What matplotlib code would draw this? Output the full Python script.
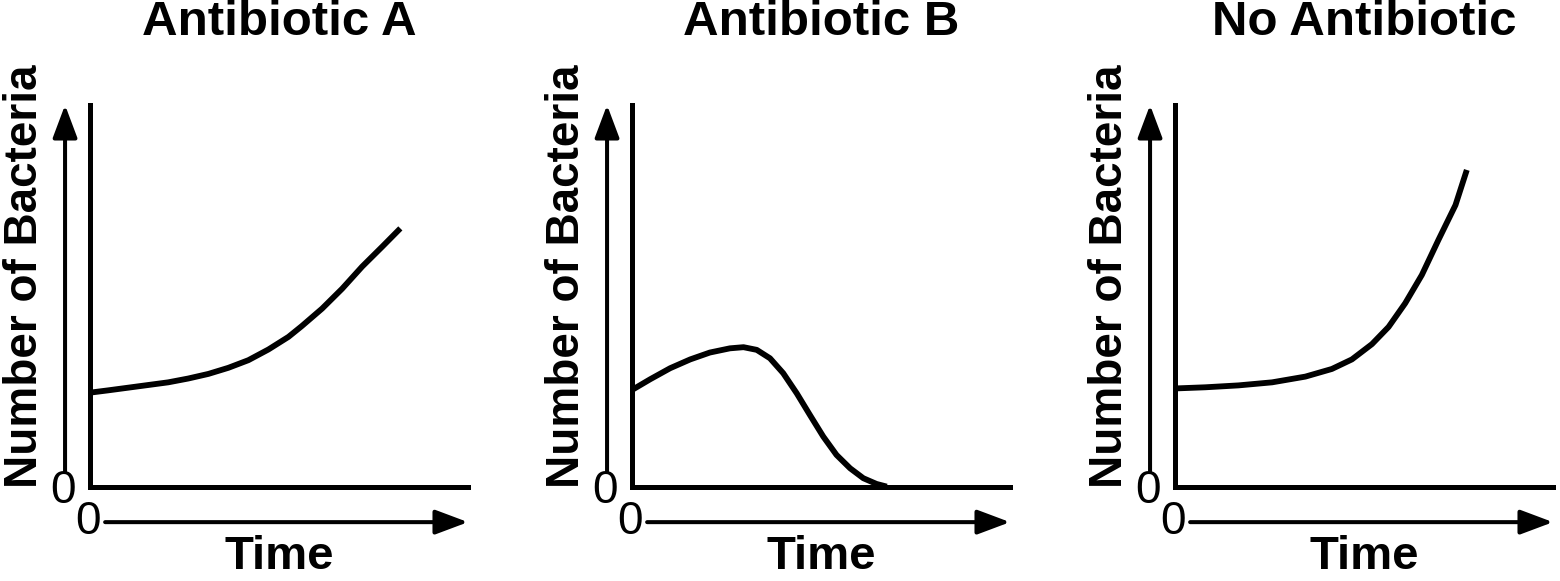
import matplotlib
matplotlib.use("Agg")
from matplotlib import pyplot as plt

plt.rcParams['font.family'] = ['Liberation Sans', 'DejaVu Sans']

titles = ["Antibiotic A", "Antibiotic B", "No Antibiotic"]

# curves, time and bacteria on a 0-100 scale
time_a = [0, 4.8, 10.1, 15.4, 20.7, 26.0, 31.3, 36.6, 41.9, 47.2, 52.5, 56.0, 61.4,
          66.7, 72.0, 77.3, 82.1]
bact_a = [24.7, 25.3, 26.0, 26.7, 27.4, 28.4, 29.6, 31.2, 33.2, 36.0, 39.3, 42.1, 46.7,
          51.9, 57.7, 62.9, 67.7]

time_b = [0, 4.8, 10.1, 15.4, 20.6, 25.9, 29.5, 33.0, 36.5, 40.0, 43.6, 47.1, 50.6,
          54.1, 57.7, 61.2, 64.7, 67.4]
bact_b = [25.4, 28.2, 31.1, 33.4, 35.2, 36.3, 36.6, 35.9, 33.7, 29.8, 24.5, 18.8, 13.2,
          8.4, 4.9, 2.3, 0.8, 0.1]

time_c = [0, 8.0, 16.8, 25.7, 34.5, 41.5, 46.8, 52.1, 56.5, 60.9, 65.3, 69.7, 74.2, 77.2]
bact_c = [25.8, 26.1, 26.6, 27.4, 28.9, 30.9, 33.4, 37.4, 41.9, 48.1, 55.5, 64.7, 73.8, 83.0]

curves = [(time_a, bact_a), (time_b, bact_b), (time_c, bact_c)]
lefts = [90, 632, 1175]

W, H = 1560, 581
fig = plt.figure(figsize=(W / 100, H / 100), dpi=100)

for left, title, (t, n) in zip(lefts, titles, curves):
    ax = fig.add_axes([left / W, (H - 487) / H, 378 / W, 382 / H])
    ax.plot(t, n, color="black", lw=4.2, solid_capstyle="butt",
            solid_joinstyle="round", clip_on=False)
    ax.set_xlim(0, 100)
    ax.set_ylim(0, 100)
    for s in ["top", "right"]:
        ax.spines[s].set_visible(False)
    for s in ["left", "bottom"]:
        ax.spines[s].set_linewidth(3.6)
        ax.spines[s].set_capstyle("projecting")
    ax.set_xticks([])
    ax.set_yticks([])

    arrow = dict(arrowstyle="-|>,head_length=2.0,head_width=0.75", lw=2.9, color="black",
                 shrinkA=0, shrinkB=0)
    ax.annotate("", xy=(-0.066, 1.0), xytext=(-0.066, 0.04), xycoords="axes fraction",
                arrowprops=arrow, annotation_clip=False)
    ax.annotate("", xy=(1.0, -0.092), xytext=(0.04, -0.092), xycoords="axes fraction",
                arrowprops=arrow, annotation_clip=False)

    ax.text(0.5, 1.217, title, transform=ax.transAxes, ha="center", va="center",
            fontsize=35.5, fontweight="bold")
    ax.text(-0.172, 0.552, "Number of Bacteria", transform=ax.transAxes, rotation=90,
            ha="center", va="center", fontsize=33, fontweight="bold")
    ax.text(0.5, -0.183, "Time", transform=ax.transAxes, ha="center", va="center",
            fontsize=34, fontweight="bold")
    ax.text(-0.072, -0.01, "0", transform=ax.transAxes, ha="center", va="center", fontsize=33)
    ax.text(-0.005, -0.092, "0", transform=ax.transAxes, ha="center", va="center", fontsize=33)

fig.savefig("out.png", dpi=100)
